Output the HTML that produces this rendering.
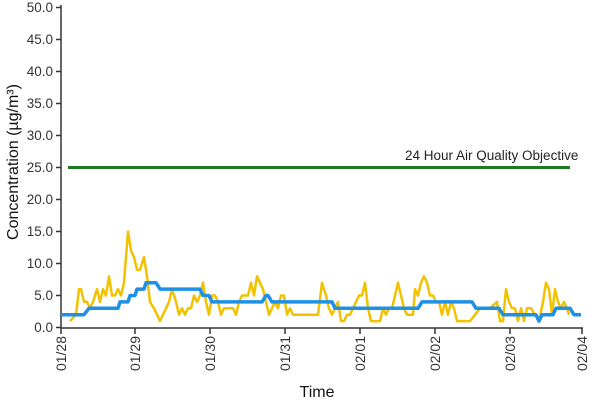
<!DOCTYPE html>
<html><head><meta charset="utf-8"><style>body{margin:0;background:#fff}svg{display:block;font-family:"Liberation Sans",sans-serif}</style></head><body>
<svg width="600" height="400" viewBox="0 0 600 400">
<g font-size="13.5" fill="#333" text-anchor="end">
<text x="53" y="12">50.0</text><text x="53" y="44">45.0</text><text x="53" y="76">40.0</text><text x="53" y="108">35.0</text><text x="53" y="140">30.0</text><text x="53" y="172">25.0</text><text x="53" y="204">20.0</text><text x="53" y="236">15.0</text><text x="53" y="268">10.0</text><text x="53" y="300">5.0</text><text x="53" y="332">0.0</text>
</g>
<g stroke="#333" stroke-width="1.5">
<line x1="61" y1="5" x2="61" y2="328"/><line x1="61" y1="328" x2="583" y2="328"/>
<line x1="56" y1="7.5" x2="61" y2="7.5"/><line x1="56" y1="39.5" x2="61" y2="39.5"/><line x1="56" y1="71.5" x2="61" y2="71.5"/><line x1="56" y1="103.5" x2="61" y2="103.5"/><line x1="56" y1="135.5" x2="61" y2="135.5"/><line x1="56" y1="167.5" x2="61" y2="167.5"/><line x1="56" y1="199.5" x2="61" y2="199.5"/><line x1="56" y1="231.5" x2="61" y2="231.5"/><line x1="56" y1="263.5" x2="61" y2="263.5"/><line x1="56" y1="295.5" x2="61" y2="295.5"/><line x1="56" y1="327.5" x2="61" y2="327.5"/>
<line x1="61" y1="328" x2="61" y2="334"/><line x1="135" y1="328" x2="135" y2="334"/><line x1="210" y1="328" x2="210" y2="334"/><line x1="285" y1="328" x2="285" y2="334"/><line x1="360" y1="328" x2="360" y2="334"/><line x1="435" y1="328" x2="435" y2="334"/><line x1="510" y1="328" x2="510" y2="334"/><line x1="582" y1="328" x2="582" y2="334"/>
</g>
<g font-size="14" fill="#333" text-anchor="end">
<text transform="translate(66,336) rotate(-90)">01/28</text><text transform="translate(140,336) rotate(-90)">01/29</text><text transform="translate(215,336) rotate(-90)">01/30</text><text transform="translate(290,336) rotate(-90)">01/31</text><text transform="translate(365,336) rotate(-90)">02/01</text><text transform="translate(440,336) rotate(-90)">02/02</text><text transform="translate(515,336) rotate(-90)">02/03</text><text transform="translate(587,336) rotate(-90)">02/04</text>
</g>
<text x="317" y="397" font-size="16" text-anchor="middle" fill="#111">Time</text>
<text transform="translate(18,162) rotate(-90)" font-size="16" text-anchor="middle" fill="#111">Concentration (µg/m³)</text>
<line x1="68" y1="167.5" x2="570" y2="167.5" stroke="#1e7a1e" stroke-width="3"/>
<text x="405" y="160" font-size="13.5" fill="#222">24 Hour Air Quality Objective</text>
<polyline fill="none" stroke="#f2c200" stroke-width="2.5" stroke-linejoin="round" points="70,321.1 76,314.7 79,289.1 81,289.1 84,301.9 87,301.9 90,308.3 93,301.9 97,289.1 100,301.9 103,289.1 106,295.5 109,276.3 112,295.5 115,295.5 118,289.1 121,295.5 124,282.7 128,231.5 131,250.7 134,257.1 137,269.9 140,269.9 144,257.1 147,276.3 150,301.9 154,308.3 157,314.7 160,321.1 163,314.7 166,308.3 169,301.9 172,289.1 176,301.9 179,314.7 182,308.3 185,314.7 188,308.3 191,308.3 194,295.5 197,301.9 200,295.5 203,282.7 206,301.9 209,314.7 212,295.5 215,295.5 218,301.9 221,314.7 224,308.3 227,308.3 230,308.3 233,308.3 236,314.7 239,301.9 242,295.5 245,295.5 248,295.5 251,282.7 254,295.5 257,276.3 260,282.7 263,289.1 266,301.9 269,314.7 272,308.3 275,301.9 278,308.3 281,295.5 284,295.5 287,314.7 290,308.3 293,314.7 300,314.7 318,314.7 322,282.7 326,295.5 329,308.3 332,314.7 335,308.3 338,301.9 341,321.1 344,321.1 347,314.7 350,314.7 353,308.3 356,301.9 359,295.5 362,295.5 365,282.7 368,308.3 371,321.1 380,321.1 383,308.3 386,314.7 389,308.3 392,308.3 395,295.5 398,282.7 401,295.5 404,308.3 407,314.7 413,314.7 415,289.1 418,295.5 421,282.7 424,276.3 427,282.7 430,295.5 433,295.5 436,301.9 439,301.9 442,314.7 445,301.9 448,314.7 451,301.9 454,308.3 457,321.1 470,321.1 475,314.7 480,308.3 484,308.3 490,308.3 497,301.9 500,321.1 503,321.1 506,289.1 509,301.9 512,308.3 515,308.3 518,321.1 521,308.3 524,321.1 527,308.3 531,308.3 535,314.7 539,321.1 543,301.9 546,282.7 549,289.1 552,314.7 555,289.1 558,301.9 561,308.3 564,301.9 567,308.3 569,314.7"/>
<polyline fill="none" stroke="#1e90e6" stroke-width="3.5" stroke-linejoin="round" points="61,314.7 84,314.7 89,308.3 118,308.3 120,301.9 128,301.9 130,295.5 135,295.5 137,289.1 144,289.1 146,282.7 156,282.7 160,289.1 200,289.1 203,295.5 209,295.5 212,301.9 262,301.9 266,295.5 268,295.5 272,301.9 332,301.9 335,308.3 418,308.3 422,301.9 472,301.9 476,308.3 499,308.3 503,314.7 536,314.7 539,321.1 542,314.7 553,314.7 556,308.3 570,308.3 574,314.7 581,314.7"/>
</svg>
</body></html>
